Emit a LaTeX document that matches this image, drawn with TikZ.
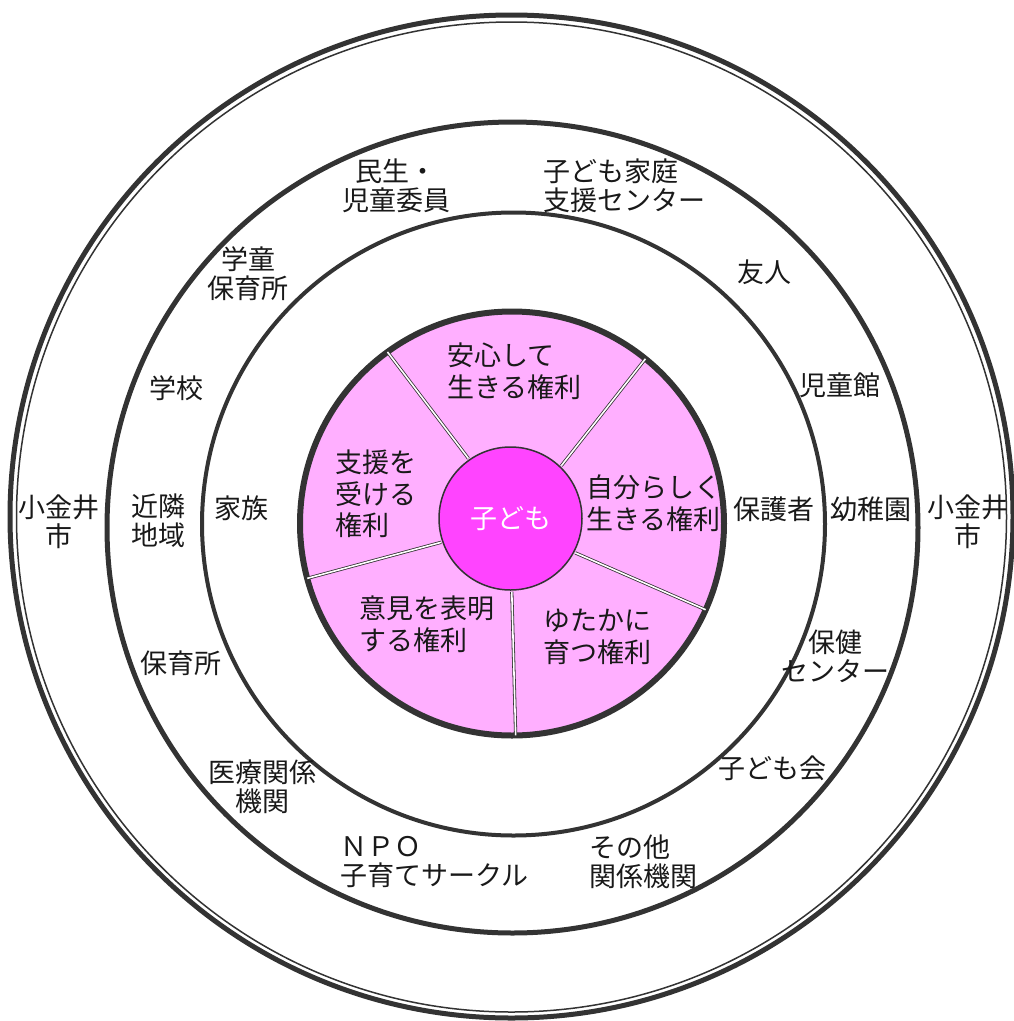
\documentclass[tikz,border=0pt]{standalone}
\usepackage{fontspec}
\newfontfamily\jp{Noto Sans CJK JP}
\definecolor{lineGray}{HTML}{333333}
\definecolor{kenriPink}{HTML}{FFAFFF}
\definecolor{kodomoPink}{HTML}{FF44FF}

\begin{document}
\begin{tikzpicture}[
        %Environment Config
        x=1pt, y=-1pt,
        Lbl/.style={%Style for the ring labels
            font=\jp\fontsize{27}{29}\selectfont,
            align=center,
            inner sep=0pt,
            text=black!90
        },
        LblL/.style={%Left aligned ring labels
            Lbl,
            align=left,
            anchor=west
        },
        Kenri/.style={%Style for the rights in the pink circle
            font=\jp\fontsize{27}{31.5}\selectfont,
            align=left,
            anchor=west,
            inner sep=0pt,
            text=black!90
        },
        Divider/.style={%Double line between the rights
            draw=lineGray,
            line width=0.8pt,
            double=white,
            double distance=1.6pt,
            shorten <=1pt,
            shorten >=3pt
        }
    ]
    \useasboundingbox (0,0) rectangle (1013,1021);

    %%%%%%%%%%%%%%%%%%%%%%%%%%%%%%%%%%%%%%%%%%%%%%%%%%%%%%%%%%%%%%%%%%%%%%%%%%%%
    % RINGS
    %%%%%%%%%%%%%%%%%%%%%%%%%%%%%%%%%%%%%%%%%%%%%%%%%%%%%%%%%%%%%%%%%%%%%%%%%%%%
    % outer ring (double)
    \draw[lineGray, line width=5pt] (511.5,516.5) circle[radius=501.5pt];
    \draw[lineGray, line width=1.5pt] (511.5,517) circle[radius=495pt];
    % middle ring
    \draw[lineGray, line width=5pt] (512.5,527.5) circle[radius=405.5pt];
    % inner ring
    \draw[lineGray, line width=4pt] (513.5,524) circle[radius=311.5pt];

    % pink circle and the child
    \node[circle, fill=kenriPink, draw=lineGray, line width=6pt, inner sep=0pt,
        minimum size=424pt] (KENRI) at (512,523.5) {};
    \node[circle, fill=kodomoPink, draw=lineGray, line width=1.5pt, inner sep=0pt,
        minimum size=143pt, text=white, font=\jp\fontsize{27}{31}\selectfont] (KODOMO) at (510.5,518.5) {子ども};

    % dividers
    \draw[Divider] (KODOMO.125) -- (KENRI.126);
    \draw[Divider] (KODOMO.46) -- (KENRI.51);
    \draw[Divider] (KODOMO.-28) -- (KENRI.-24.5);
    \draw[Divider] (KODOMO.-89) -- (KENRI.-89.7);
    \draw[Divider] (KODOMO.199) -- (KENRI.195.6);

    %%%%%%%%%%%%%%%%%%%%%%%%%%%%%%%%%%%%%%%%%%%%%%%%%%%%%%%%%%%%%%%%%%%%%%%%%%%%
    % RIGHTS
    %%%%%%%%%%%%%%%%%%%%%%%%%%%%%%%%%%%%%%%%%%%%%%%%%%%%%%%%%%%%%%%%%%%%%%%%%%%%
    \node[Kenri] (K1) at (447,371) {安心して\\生きる権利};
    \node[Kenri] (K2) at (586,503) {自分らしく\\生きる権利};
    \node[Kenri] (K3) at (543,637) {ゆたかに\\育つ権利};
    \node[Kenri] (K4) at (359,624) {意見を表明\\する権利};
    \node[Kenri] (K5) at (335,494) {支援を\\受ける\\権利};

    %%%%%%%%%%%%%%%%%%%%%%%%%%%%%%%%%%%%%%%%%%%%%%%%%%%%%%%%%%%%%%%%%%%%%%%%%%%%
    % LABELS
    %%%%%%%%%%%%%%%%%%%%%%%%%%%%%%%%%%%%%%%%%%%%%%%%%%%%%%%%%%%%%%%%%%%%%%%%%%%%
    % inner ring
    \node[Lbl] (KAZOKU) at (241,508) {家族};
    \node[Lbl] (HOGOSHA) at (774,509) {保護者};

    % middle ring
    \node[Lbl] (MINSEI) at (396,186) {民生・\\児童委員};
    \node[LblL] (KATEI) at (543,186) {子ども家庭\\支援センター};
    \node[Lbl] (YUJIN) at (764,272) {友人};
    \node[Lbl] (JIDOKAN) at (840,385) {児童館};
    \node[Lbl] (YOCHIEN) at (871,509) {幼稚園};
    \node[Lbl] (HOKEN) at (835,656) {保健\\センター};
    \node[Lbl] (KODOMOKAI) at (772,768) {子ども会};
    \node[LblL] (SONOTA) at (589,862) {その他\\関係機関};
    \node[LblL] (NPO) at (340,862) {ＮＰＯ\\子育てサークル};
    \node[Lbl] (IRYO) at (262,787) {医療関係\\機関};
    \node[Lbl] (HOIKU) at (181,663) {保育所};
    \node[Lbl] (KINRIN) at (158,521) {近隣\\地域};
    \node[Lbl] (GAKKO) at (176,388) {学校};
    \node[Lbl] (GAKUDO) at (248,274) {学童\\保育所};

    % outer ring
    \node[Lbl] (CITYL) at (59,522) {小金井\\市};
    \node[Lbl] (CITYR) at (968,522) {小金井\\市};
\end{tikzpicture}
\end{document}
